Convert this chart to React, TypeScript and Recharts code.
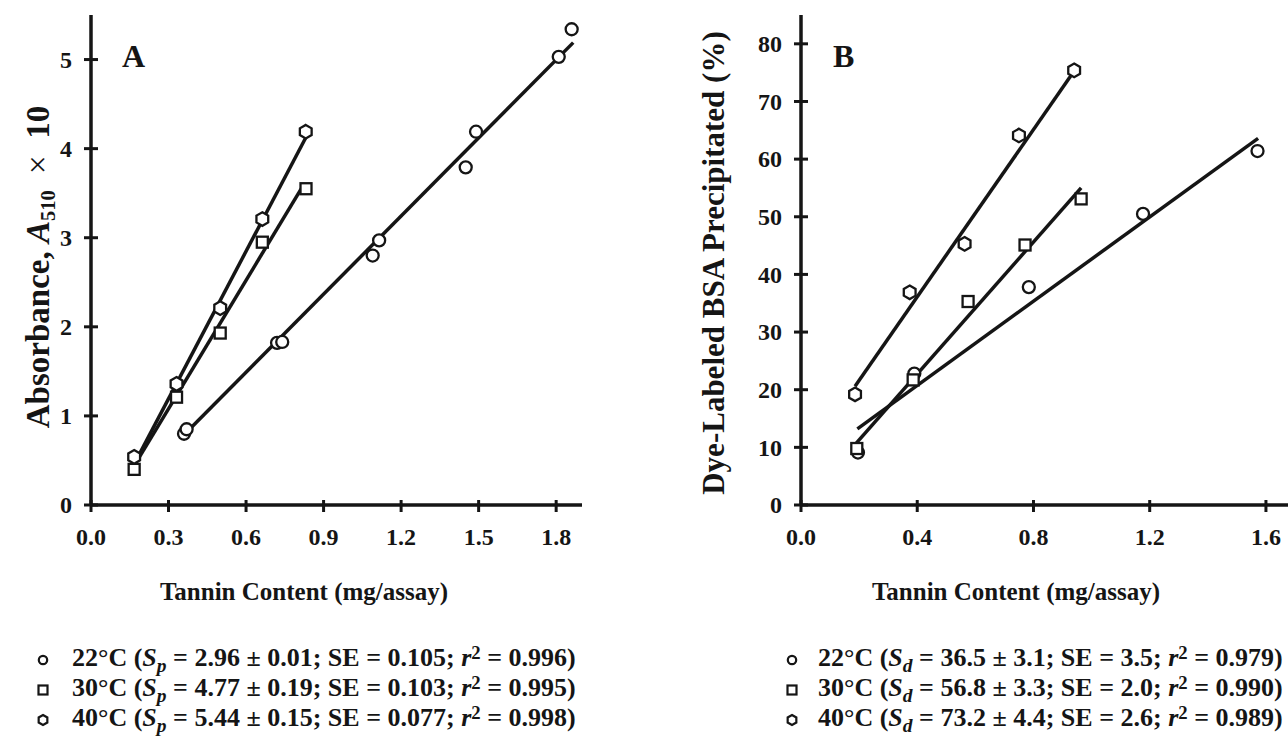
import React from 'react';
import { ScatterChart, Scatter, XAxis, YAxis } from 'recharts';

const FONT = '"Liberation Serif", "Times New Roman", Times, serif';
const INK = '#151515';

// ---- Panel A data (Tannin content mg/assay vs Absorbance A510 x 10)
const ticksAX = [0, 0.3, 0.6, 0.9, 1.2, 1.5, 1.8];
const ticksAY = [0, 1, 2, 3, 4, 5];
const a22 = [
  { x: 0.36, y: 0.8 }, { x: 0.37, y: 0.85 }, { x: 0.72, y: 1.82 }, { x: 0.74, y: 1.83 },
  { x: 1.09, y: 2.8 }, { x: 1.115, y: 2.97 }, { x: 1.45, y: 3.79 }, { x: 1.49, y: 4.19 },
  { x: 1.81, y: 5.03 }, { x: 1.86, y: 5.34 },
];
const a30 = [
  { x: 0.167, y: 0.4 }, { x: 0.331, y: 1.21 }, { x: 0.5, y: 1.93 }, { x: 0.663, y: 2.95 }, { x: 0.832, y: 3.55 },
];
const a40 = [
  { x: 0.167, y: 0.54 }, { x: 0.331, y: 1.36 }, { x: 0.5, y: 2.21 }, { x: 0.663, y: 3.21 }, { x: 0.831, y: 4.19 },
];
const fitA22 = [{ x: 0.364, y: 0.8 }, { x: 1.866, y: 5.19 }];
const fitA30 = [{ x: 0.169, y: 0.45 }, { x: 0.822, y: 3.59 }];
const fitA40 = [{ x: 0.169, y: 0.47 }, { x: 0.836, y: 4.15 }];

// ---- Panel B data (Tannin content vs Dye-labeled BSA precipitated %)
const ticksBX = [0, 0.4, 0.8, 1.2, 1.6];
const ticksBY = [0, 10, 20, 30, 40, 50, 60, 70, 80];
const b22 = [
  { x: 0.196, y: 9.1 }, { x: 0.39, y: 22.8 }, { x: 0.784, y: 37.8 }, { x: 1.177, y: 50.5 }, { x: 1.571, y: 61.4 },
];
const b30 = [
  { x: 0.192, y: 9.8 }, { x: 0.386, y: 21.7 }, { x: 0.575, y: 35.3 }, { x: 0.771, y: 45.1 }, { x: 0.964, y: 53.1 },
];
const b40 = [
  { x: 0.186, y: 19.2 }, { x: 0.374, y: 36.9 }, { x: 0.563, y: 45.3 }, { x: 0.75, y: 64.1 }, { x: 0.94, y: 75.4 },
];
const fitB22 = [{ x: 0.194, y: 13.2 }, { x: 1.573, y: 63.6 }];
const fitB30 = [{ x: 0.188, y: 10.6 }, { x: 0.964, y: 55.0 }];
const fitB40 = [{ x: 0.186, y: 20.6 }, { x: 0.928, y: 74.4 }];

// ---- Legend texts
const legendTemps = ['22°C', '30°C', '40°C'];
const legendShapes = ['circle', 'square', 'hex'];
const legendA_S = ['2.96 ± 0.01', '4.77 ± 0.19', '5.44 ± 0.15'];
const legendA_SE = ['0.105', '0.103', '0.077'];
const legendA_R2 = ['0.996', '0.995', '0.998'];
const legendB_S = ['36.5 ± 3.1', '56.8 ± 3.3', '73.2 ± 4.4'];
const legendB_SE = ['3.5', '2.0', '2.6'];
const legendB_R2 = ['0.979', '0.990', '0.989'];

const CircleMark = (p: any) => (
  <circle cx={p.cx} cy={p.cy} r={6} fill="#fff" stroke={INK} strokeWidth={2.3} />
);
const SquareMark = (p: any) => (
  <rect x={p.cx - 5.5} y={p.cy - 5.5} width={11} height={11} fill="#fff" stroke={INK} strokeWidth={2.3} />
);
const hexPoints = (cx: number, cy: number, r: number) => {
  const pts: string[] = [];
  for (let i = 0; i < 6; i++) {
    const a = ((-90 + 60 * i) * Math.PI) / 180;
    pts.push(`${cx + r * Math.cos(a)},${cy + r * Math.sin(a)}`);
  }
  return pts.join(' ');
};
const HexMark = (p: any) => (
  <polygon points={hexPoints(p.cx, p.cy, 6.8)} fill="#fff" stroke={INK} strokeWidth={2.3} />
);
const NoMark = () => <g />;

const YTick = (p: any) => {
  const { x, y, payload } = p;
  return (
    <g>
      <line x1={x - 7} x2={x + 7} y1={y} y2={y} stroke={INK} strokeWidth={3} />
      <text x={x - 19} y={y} dy="0.34em" textAnchor="end" fontFamily={FONT} fontWeight="bold" fontSize={24} fill={INK}>
        {payload.value}
      </text>
    </g>
  );
};
const XTick = (p: any) => {
  const { x, y, payload } = p;
  return (
    <g>
      <line x1={x} x2={x} y1={y - 5} y2={y + 7} stroke={INK} strokeWidth={3} />
      <text x={x} y={y + 40} textAnchor="middle" fontFamily={FONT} fontWeight="bold" fontSize={24} fill={INK}>
        {Number(payload.value).toFixed(1)}
      </text>
    </g>
  );
};

const axisLine = { stroke: INK, strokeWidth: 3.5 };
const fitLine = { stroke: INK, strokeWidth: 3.5 };

const MarkIcon = ({ shape }: { shape: string }) => (
  <svg width={14} height={14} style={{ position: 'absolute', left: -7, top: -7 }}>
    {shape === 'circle' && <circle cx={7} cy={7} r={4.2} fill="#fff" stroke={INK} strokeWidth={2.2} />}
    {shape === 'square' && <rect x={2.5} y={2.5} width={9} height={9} fill="#fff" stroke={INK} strokeWidth={2.2} />}
    {shape === 'hex' && <polygon points={hexPoints(7, 7, 5)} fill="#fff" stroke={INK} strokeWidth={2.2} />}
  </svg>
);

const Legend = ({ markX, textX, sym, S, SE, R2 }: any) => (
  <>
    {legendTemps.map((t, i) => (
      <React.Fragment key={t}>
        <div style={{ position: 'absolute', left: markX, top: 660 + 30 * i, width: 0, height: 0 }}>
          <MarkIcon shape={legendShapes[i]} />
        </div>
        <div
          style={{
            position: 'absolute', left: textX, top: 643 + 30 * i, height: 30, lineHeight: '30px',
            fontFamily: FONT, fontWeight: 'bold', fontSize: 26, color: INK, whiteSpace: 'nowrap',
          }}
        >
          {t} (<i>S</i>
          <span style={{ fontSize: '0.75em', position: 'relative', top: '0.3em', fontStyle: 'italic' }}>{sym}</span>
          {' '}= {S[i]}; SE = {SE[i]}; <i>r</i>
          <span style={{ fontSize: '0.72em', position: 'relative', top: '-0.35em' }}>2</span> = {R2[i]})
        </div>
      </React.Fragment>
    ))}
  </>
);

const rotTitle = (cx: number, cy: number, size: number): React.CSSProperties => ({
  position: 'absolute', left: cx, top: cy, transform: 'translate(-50%, -50%) rotate(-90deg)',
  fontFamily: FONT, fontWeight: 'bold', fontSize: size, color: INK, whiteSpace: 'nowrap', lineHeight: 1,
});

const xTitle = (cx: number): React.CSSProperties => ({
  position: 'absolute', left: cx, top: 577, transform: 'translateX(-50%)',
  fontFamily: FONT, fontWeight: 'bold', fontSize: 25, color: INK, whiteSpace: 'nowrap', lineHeight: '30px',
});

const panelLetter = (x: number): React.CSSProperties => ({
  position: 'absolute', left: x, top: 38, fontFamily: FONT, fontWeight: 'bold', fontSize: 32, color: INK, lineHeight: '36px',
});

export default function App() {
  return (
    <div style={{ position: 'absolute', left: 0, top: 0, width: 1288, height: 738, overflow: 'hidden', background: '#fff' }}>
      {/* Panel A */}
      <div style={{ position: 'absolute', left: 0, top: 0 }}>
        <ScatterChart width={600} height={560} margin={{ top: 15, right: 18, left: 0, bottom: 15 }}>
          <XAxis type="number" dataKey="x" domain={[0, 1.9]} ticks={ticksAX} height={40} tickSize={0} tickMargin={0}
            tickLine={false} axisLine={axisLine} tick={<XTick />} allowDataOverflow />
          <XAxis xAxisId="top" orientation="top" type="number" domain={[0, 1.9]} height={0} tick={false} tickLine={false} axisLine={axisLine} />
          <YAxis type="number" dataKey="y" domain={[0, 5.5]} ticks={ticksAY} width={91} tickSize={0} tickMargin={0}
            tickLine={false} axisLine={axisLine} tick={<YTick />} allowDataOverflow />
          <YAxis yAxisId="right" orientation="right" type="number" domain={[0, 5.5]} width={0} tick={false} tickLine={false} axisLine={axisLine} />
          <Scatter data={fitA22} line={fitLine} shape={<NoMark />} isAnimationActive={false} />
          <Scatter data={fitA30} line={fitLine} shape={<NoMark />} isAnimationActive={false} />
          <Scatter data={fitA40} line={fitLine} shape={<NoMark />} isAnimationActive={false} />
          <Scatter data={a22} shape={<CircleMark />} isAnimationActive={false} />
          <Scatter data={a30} shape={<SquareMark />} isAnimationActive={false} />
          <Scatter data={a40} shape={<HexMark />} isAnimationActive={false} />
        </ScatterChart>
      </div>
      <div style={panelLetter(122)}>A</div>
      <div style={rotTitle(38, 267, 33)}>
        Absorbance, <i>A</i>
        <span style={{ fontSize: '0.62em', position: 'relative', top: '0.3em' }}>510</span>
        <span style={{ fontWeight: 'normal' }}>{'\u2002×\u2002'}</span>10
      </div>
      <div style={xTitle(304)}>Tannin Content (mg/assay)</div>
      <Legend markX={43} textX={72} sym="p" S={legendA_S} SE={legendA_SE} R2={legendA_R2} />

      {/* Panel B */}
      <div style={{ position: 'absolute', left: 700, top: 0 }}>
        <ScatterChart width={620} height={560} margin={{ top: 15, right: 25, left: 0, bottom: 15 }}>
          <XAxis type="number" dataKey="x" domain={[0, 1.7]} ticks={ticksBX} height={40} tickSize={0} tickMargin={0}
            tickLine={false} axisLine={axisLine} tick={<XTick />} allowDataOverflow />
          <XAxis xAxisId="top" orientation="top" type="number" domain={[0, 1.7]} height={0} tick={false} tickLine={false} axisLine={axisLine} />
          <YAxis type="number" dataKey="y" domain={[0, 85]} ticks={ticksBY} width={101} tickSize={0} tickMargin={0}
            tickLine={false} axisLine={axisLine} tick={<YTick />} allowDataOverflow />
          <Scatter data={fitB22} line={fitLine} shape={<NoMark />} isAnimationActive={false} />
          <Scatter data={fitB30} line={fitLine} shape={<NoMark />} isAnimationActive={false} />
          <Scatter data={fitB40} line={fitLine} shape={<NoMark />} isAnimationActive={false} />
          <Scatter data={b22} shape={<CircleMark />} isAnimationActive={false} />
          <Scatter data={b30} shape={<SquareMark />} isAnimationActive={false} />
          <Scatter data={b40} shape={<HexMark />} isAnimationActive={false} />
        </ScatterChart>
      </div>
      <div style={panelLetter(833)}>B</div>
      <div style={rotTitle(713, 263, 31)}>Dye-Labeled BSA Precipitated (%)</div>
      <div style={xTitle(1016)}>Tannin Content (mg/assay)</div>
      <Legend markX={792} textX={818} sym="d" S={legendB_S} SE={legendB_SE} R2={legendB_R2} />
    </div>
  );
}
